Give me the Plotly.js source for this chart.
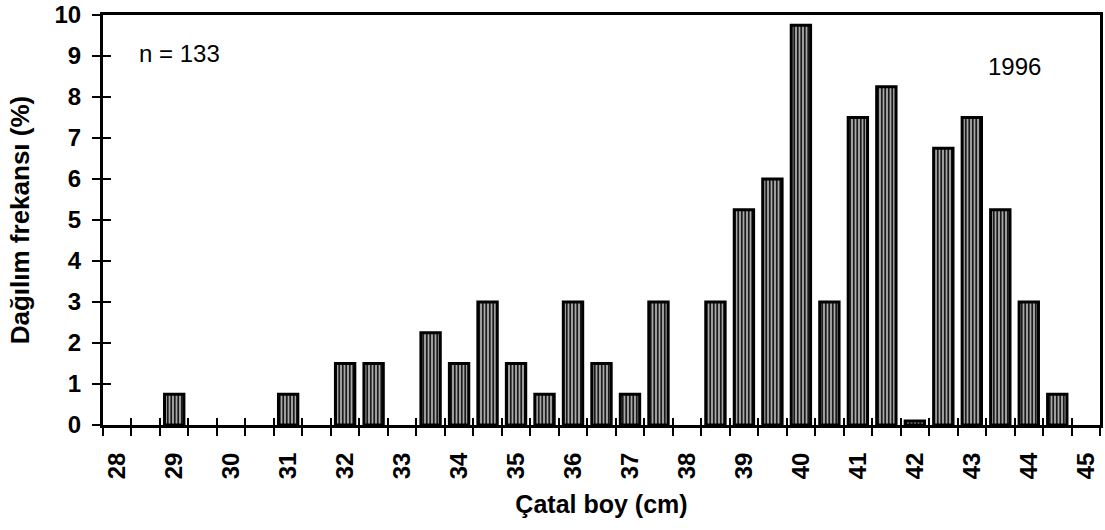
<!DOCTYPE html>
<html>
<head>
<meta charset="utf-8">
<script src="https://cdn.plot.ly/plotly-3.0.1.min.js"></script>
<style>html,body{margin:0;padding:0;background:#fff;}#chart{width:1105px;height:530px;}</style>
</head>
<body>
<div id="chart"></div>
<script>
// Fork length classes (cm) and frequency (%)
const lengthClasses = [29, 31, 32, 32.5, 33.5, 34, 34.5, 35, 35.5, 36, 36.5, 37, 37.5, 38.5, 39, 39.5, 40, 40.5, 41, 41.5, 42, 42.5, 43, 43.5, 44, 44.5];
const frequency =     [0.75, 0.75, 1.5, 1.5, 2.25, 1.5, 3.0, 1.5, 0.75, 3.0, 1.5, 0.75, 3.0, 3.0, 5.25, 6.0, 9.75, 3.0, 7.5, 8.25, 0.1, 6.75, 7.5, 5.25, 3.0, 0.75];
const xTickValues = [28, 29, 30, 31, 32, 33, 34, 35, 36, 37, 38, 39, 40, 41, 42, 43, 44, 45];
const xTickLabels = xTickValues.map(String);
const yTickValues = [0, 1, 2, 3, 4, 5, 6, 7, 8, 9, 10];
const sampleLabel = "n = 133";
const yearLabel = "1996";
const xTitle = "Çatal boy (cm)";
const yTitle = "Dağılım frekansı (%)";

const xRange = [27.75, 45.25];
const classBounds = [];
for (let b = xRange[0]; b <= xRange[1] + 1e-9; b += 0.5) classBounds.push(b);

const FONT = "Liberation Sans, Arial, sans-serif";

const traces = [
  {
    type: "bar",
    x: lengthClasses,
    y: frequency,
    width: 0.34,
    marker: {
      color: "#a0a0a0",
      line: {color: "#000", width: 3},
      pattern: {shape: "|", fgcolor: "#1a1a1a", bgcolor: "#a8a8a8", size: 3.5, solidity: 0.5, fillmode: "replace"}
    },
    hoverinfo: "x+y",
    showlegend: false
  },
  {
    type: "scatter", mode: "markers", x: [], y: [],
    xaxis: "x2", yaxis: "y2", showlegend: false, hoverinfo: "skip"
  }
];

const layout = {
  width: 1105, height: 530,
  margin: {l: 103, r: 5, t: 15, b: 105},
  paper_bgcolor: "#fff", plot_bgcolor: "#fff",
  showlegend: false,
  font: {family: FONT, color: "#000"},
  xaxis: {
    range: xRange,
    tickmode: "array", tickvals: xTickValues, ticktext: xTickLabels,
    ticks: "", tickangle: -90,
    ticklabelstandoff: 15,
    tickfont: {family: FONT, size: 24, weight: 700, color: "#000"},
    minor: {tickmode: "array", tickvals: classBounds, ticks: "outside", ticklen: 8, tickwidth: 2, tickcolor: "#000"},
    showline: true, linecolor: "#000", linewidth: 3, mirror: true,
    showgrid: false, zeroline: false,
    title: {text: xTitle, font: {family: FONT, size: 25, weight: 700, color: "#000"}, standoff: 18}
  },
  yaxis: {
    range: [0, 10],
    tickmode: "array", tickvals: yTickValues,
    ticks: "outside", ticklen: 8, tickwidth: 2, tickcolor: "#000",
    ticklabelstandoff: 6,
    tickfont: {family: FONT, size: 24, weight: 700, color: "#000"},
    showline: true, linecolor: "#000", linewidth: 3, mirror: true,
    showgrid: false, zeroline: false,
    title: {text: yTitle, font: {family: FONT, size: 26, weight: 700, color: "#000"}, standoff: 18}
  },
  xaxis2: {
    range: xRange, overlaying: "x", anchor: "y2",
    tickmode: "array", tickvals: classBounds,
    ticks: "inside", ticklen: 7, tickwidth: 2, tickcolor: "#000",
    showticklabels: false, showline: false, showgrid: false, zeroline: false
  },
  yaxis2: {
    range: [0, 10], overlaying: "y", anchor: "x2", side: "left",
    tickmode: "array", tickvals: yTickValues,
    ticks: "inside", ticklen: 8, tickwidth: 2, tickcolor: "#000",
    showticklabels: false, showline: false, showgrid: false, zeroline: false
  },
  annotations: [
    {text: sampleLabel, xref: "paper", yref: "paper", x: 0.034, y: 0.905, xanchor: "left", yanchor: "middle", showarrow: false,
     font: {family: FONT, size: 24, color: "#000"}},
    {text: yearLabel, xref: "paper", yref: "paper", x: 0.943, y: 0.875, xanchor: "right", yanchor: "middle", showarrow: false,
     font: {family: FONT, size: 24, color: "#000"}}
  ]
};

Plotly.newPlot("chart", traces, layout, {staticPlot: true, displayModeBar: false});
</script>
</body>
</html>
